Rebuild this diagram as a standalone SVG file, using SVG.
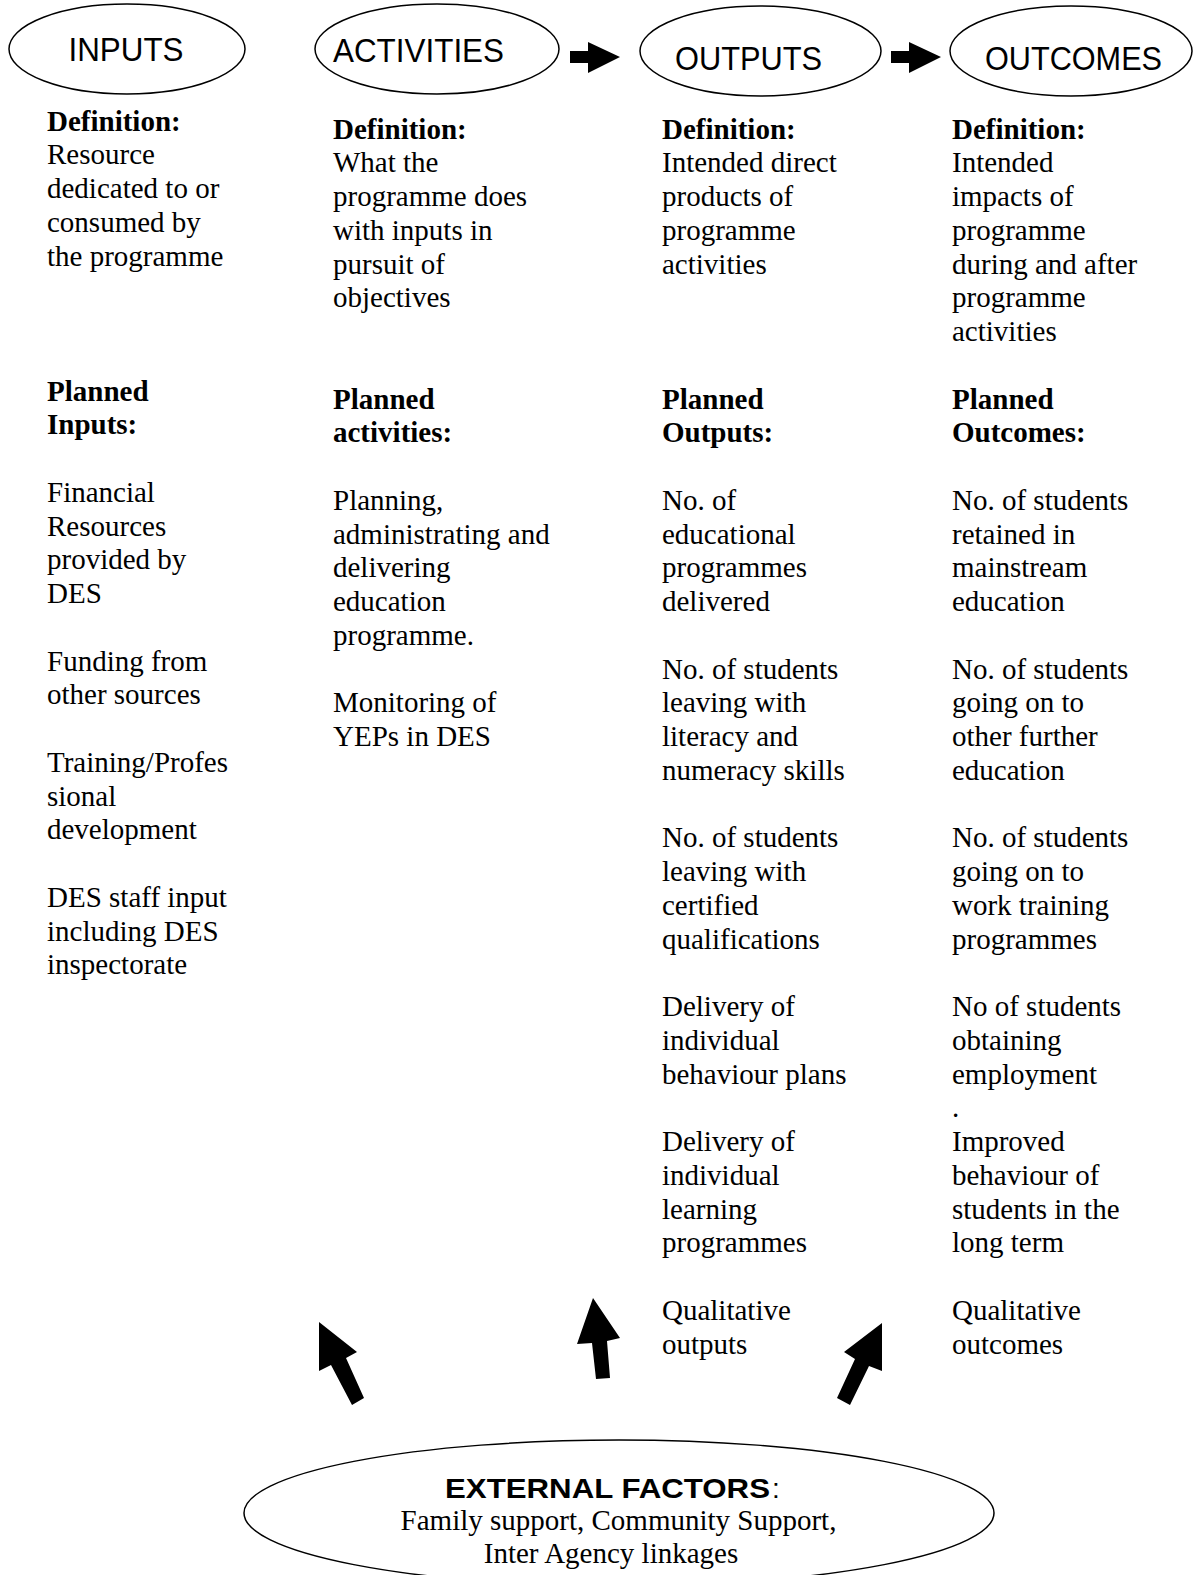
<svg xmlns="http://www.w3.org/2000/svg" width="1193" height="1575" viewBox="0 0 1193 1575">
<style>
.bg{fill:#fff}
.shape{fill:#fff;stroke:#000;stroke-width:1.5}
.arrow{fill:#000;stroke:none}
.h{font-family:"Liberation Sans",Arial,sans-serif;font-size:33px;fill:#000}
.t{font-family:"Liberation Serif","Times New Roman",serif;font-size:29px;fill:#000}
.b{font-weight:bold}
.ext{font-family:"Liberation Sans",Arial,sans-serif;font-size:28px;fill:#000}
</style>
<rect class="bg" x="0" y="0" width="1193" height="1575"/>

<g id="node-inputs">
<ellipse class="shape" cx="127" cy="49" rx="118" ry="45"/>
<text class="h" x="68.5" y="61" textLength="115" lengthAdjust="spacingAndGlyphs">INPUTS</text>
</g>
<g id="node-activities">
<ellipse class="shape" cx="437" cy="49" rx="122" ry="45"/>
<text class="h" x="333" y="62" textLength="171" lengthAdjust="spacingAndGlyphs">ACTIVITIES</text>
</g>
<g id="node-outputs">
<ellipse class="shape" cx="760.5" cy="51" rx="120.5" ry="45"/>
<text class="h" x="675" y="70" textLength="147" lengthAdjust="spacingAndGlyphs">OUTPUTS</text>
</g>
<g id="node-outcomes">
<ellipse class="shape" cx="1071" cy="51" rx="121" ry="45"/>
<text class="h" x="985" y="70" textLength="177" lengthAdjust="spacingAndGlyphs">OUTCOMES</text>
</g>

<g id="connectors">
<polygon class="arrow" points="570,51 588,51 588,42 620,57 588,73 588,63 570,63"/>
<polygon class="arrow" points="891,51 909,51 909,42 941,57 909,73 909,63 891,63"/>
<polygon class="arrow" points="319,1322 357,1352 346,1358 364,1398 352,1405 331,1365 319,1371"/>
<polygon class="arrow" points="593,1298 620,1338 607,1341 610,1378 596,1379 592,1343 577,1344"/>
<polygon class="arrow" points="882,1323 882,1371 869,1366 850,1405 837,1398 855,1359 844,1352"/>
</g>

<g id="col-inputs">
<text class="t b" x="47" y="130.5">Definition:</text>
<text class="t" x="47" y="164.25">Resource<tspan x="47" dy="33.75">dedicated to or</tspan><tspan x="47" dy="33.75">consumed by</tspan><tspan x="47" dy="33.75">the programme</tspan></text>
<text class="t b" x="47" y="400.5">Planned<tspan x="47" dy="33.75">Inputs:</tspan></text>
<text class="t" x="47" y="501.75">Financial<tspan x="47" dy="33.75">Resources</tspan><tspan x="47" dy="33.75">provided by</tspan><tspan x="47" dy="33.75">DES</tspan></text>
<text class="t" x="47" y="670.5">Funding from<tspan x="47" dy="33.75">other sources</tspan></text>
<text class="t" x="47" y="771.75">Training/Profes<tspan x="47" dy="33.75">sional</tspan><tspan x="47" dy="33.75">development</tspan></text>
<text class="t" x="47" y="906.75">DES staff input<tspan x="47" dy="33.75">including DES</tspan><tspan x="47" dy="33.75">inspectorate</tspan></text>
</g>

<g id="col-activities">
<text class="t b" x="333" y="138.5">Definition:</text>
<text class="t" x="333" y="172.25">What the<tspan x="333" dy="33.75">programme does</tspan><tspan x="333" dy="33.75">with inputs in</tspan><tspan x="333" dy="33.75">pursuit of</tspan><tspan x="333" dy="33.75">objectives</tspan></text>
<text class="t b" x="333" y="408.5">Planned<tspan x="333" dy="33.75">activities:</tspan></text>
<text class="t" x="333" y="509.75">Planning,<tspan x="333" dy="33.75">administrating and</tspan><tspan x="333" dy="33.75">delivering</tspan><tspan x="333" dy="33.75">education</tspan><tspan x="333" dy="33.75">programme.</tspan></text>
<text class="t" x="333" y="712.25">Monitoring of<tspan x="333" dy="33.75">YEPs in DES</tspan></text>
</g>

<g id="col-outputs">
<text class="t b" x="662" y="138.5">Definition:</text>
<text class="t" x="662" y="172.25">Intended direct<tspan x="662" dy="33.75">products of</tspan><tspan x="662" dy="33.75">programme</tspan><tspan x="662" dy="33.75">activities</tspan></text>
<text class="t b" x="662" y="408.5">Planned<tspan x="662" dy="33.75">Outputs:</tspan></text>
<text class="t" x="662" y="509.75">No. of<tspan x="662" dy="33.75">educational</tspan><tspan x="662" dy="33.75">programmes</tspan><tspan x="662" dy="33.75">delivered</tspan></text>
<text class="t" x="662" y="678.5">No. of students<tspan x="662" dy="33.75">leaving with</tspan><tspan x="662" dy="33.75">literacy and</tspan><tspan x="662" dy="33.75">numeracy skills</tspan></text>
<text class="t" x="662" y="847.25">No. of students<tspan x="662" dy="33.75">leaving with</tspan><tspan x="662" dy="33.75">certified</tspan><tspan x="662" dy="33.75">qualifications</tspan></text>
<text class="t" x="662" y="1016">Delivery of<tspan x="662" dy="33.75">individual</tspan><tspan x="662" dy="33.75">behaviour plans</tspan></text>
<text class="t" x="662" y="1151">Delivery of<tspan x="662" dy="33.75">individual</tspan><tspan x="662" dy="33.75">learning</tspan><tspan x="662" dy="33.75">programmes</tspan></text>
<text class="t" x="662" y="1319.75">Qualitative<tspan x="662" dy="33.75">outputs</tspan></text>
</g>

<g id="col-outcomes">
<text class="t b" x="952" y="138.5">Definition:</text>
<text class="t" x="952" y="172.25">Intended<tspan x="952" dy="33.75">impacts of</tspan><tspan x="952" dy="33.75">programme</tspan><tspan x="952" dy="33.75">during and after</tspan><tspan x="952" dy="33.75">programme</tspan><tspan x="952" dy="33.75">activities</tspan></text>
<text class="t b" x="952" y="408.5">Planned<tspan x="952" dy="33.75">Outcomes:</tspan></text>
<text class="t" x="952" y="509.75">No. of students<tspan x="952" dy="33.75">retained in</tspan><tspan x="952" dy="33.75">mainstream</tspan><tspan x="952" dy="33.75">education</tspan></text>
<text class="t" x="952" y="678.5">No. of students<tspan x="952" dy="33.75">going on to</tspan><tspan x="952" dy="33.75">other further</tspan><tspan x="952" dy="33.75">education</tspan></text>
<text class="t" x="952" y="847.25">No. of students<tspan x="952" dy="33.75">going on to</tspan><tspan x="952" dy="33.75">work training</tspan><tspan x="952" dy="33.75">programmes</tspan></text>
<text class="t" x="952" y="1016">No of students<tspan x="952" dy="33.75">obtaining</tspan><tspan x="952" dy="33.75">employment</tspan><tspan x="952" dy="33.75">.</tspan><tspan x="952" dy="33.75">Improved</tspan><tspan x="952" dy="33.75">behaviour of</tspan><tspan x="952" dy="33.75">students in the</tspan><tspan x="952" dy="33.75">long term</tspan></text>
<text class="t" x="952" y="1319.75">Qualitative<tspan x="952" dy="33.75">outcomes</tspan></text>
</g>

<g id="node-external">
<ellipse class="shape" cx="619" cy="1513" rx="375" ry="73"/>
<text class="ext b" x="445" y="1498" textLength="325" lengthAdjust="spacingAndGlyphs">EXTERNAL FACTORS</text>
<text class="ext" x="772" y="1498">:</text>
<text class="t" x="618.5" y="1530" text-anchor="middle">Family support, Community Support,</text>
<text class="t" x="611" y="1563" text-anchor="middle">Inter Agency linkages</text>
</g>
</svg>
